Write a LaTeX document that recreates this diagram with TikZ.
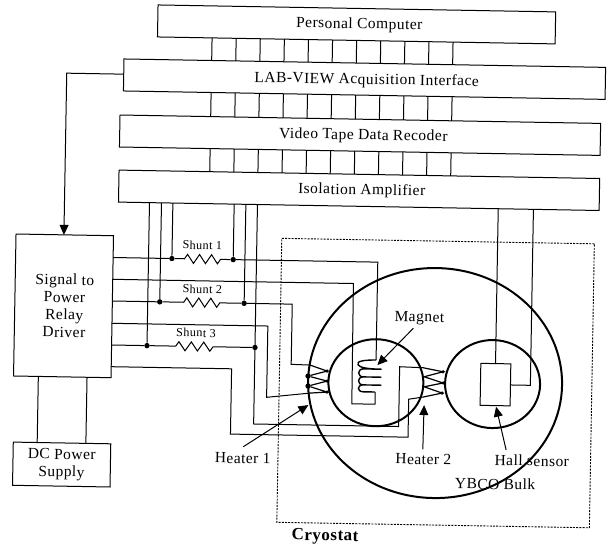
\documentclass[tikz,border=0pt]{standalone}
\usepackage{fontspec}
\setmainfont[LetterSpace=3]{Liberation Serif}
\usetikzlibrary{arrows.meta,calc,shapes.geometric}
\tikzset{
  wire/.style={line width=1pt,line join=miter},
  thick ring/.style={line width=2pt},
  barbox/.style={draw,line width=1pt,rectangle,inner sep=0pt,outer sep=0pt,anchor=north west,minimum width=480.7pt,minimum height=32pt},
  sidebox/.style={draw,line width=1pt,rectangle,inner sep=0pt,outer sep=0pt,anchor=north west,align=center},
  lab/.style={font=\fontsize{15.5}{17.5}\selectfont,inner sep=0pt,align=center},
  small lab/.style={font=\fontsize{12.2}{13}\selectfont,inner sep=0pt},
  dot/.style={circle,fill=black,inner sep=0pt,minimum size=5.4pt},
  tip/.style={-{Triangle[length=10pt,width=9pt]},line width=1pt,shorten >=0pt},
}
\begin{document}
\begin{tikzpicture}[x=1pt,y=-1pt]
\useasboundingbox (0,0) rectangle (608,548);
\begin{scope}[rotate=-1,transform shape]
% bars
\node[barbox,minimum width=397.7pt] (pc) at (158.1,2.2) {};
\node[barbox,minimum width=481.7pt] (labv) at (125,56.8) {};
\node[barbox,minimum width=480.7pt] (vid) at (122,112.9) {};
\node[barbox,minimum width=480.7pt] (iso) at (122,168) {};
\node[lab] (tpc) at (359.7,18.7) {Personal Computer};
\node[lab] (tlab) at (368,74) {LAB-VIEW Acquisition Interface};
\node[lab] (tvid) at (365.7,129.6) {Video Tape Data Recoder};
\node[lab] (tiso) at (365,184.4) {Isolation Amplifier};
\foreach \i in {0,...,10}{
  \coordinate (bx\i) at ({212.7+24.1*\i},0);
  \draw[wire] (bx\i |- pc.south) -- (bx\i |- labv.north);
  \draw[wire] (bx\i |- labv.south) -- (bx\i |- vid.north);
  \draw[wire] (bx\i |- vid.south) -- (bx\i |- iso.north);
}
% left boxes
\node[sidebox,minimum width=97.5pt,minimum height=142pt] (sig) at (20.1,233.7) {};
\node[lab] (tsig) at (69.7,304.6) {Signal to\\Power\\Relay\\Driver};
\node[sidebox,minimum width=97.5pt,minimum height=43.2pt] (dc) at (21,441.8) {};
\node[lab] (tdc) at (69.7,463.4) {DC Power\\Supply};
\coordinate (dcl) at (44.9,0);
\coordinate (dcr) at (93.6,0);
\draw[wire] (dcl |- sig.south) -- (dcl |- dc.north);
\draw[wire] (dcr |- sig.south) -- (dcr |- dc.north);
\coordinate (ac) at (68,72);
\draw[tip] (labv.west |- ac) -- (ac) -- (ac |- sig.north);
% junctions
\node[dot] (a1) at (176.4,255.5) {};
\node[dot] (b1) at (237.7,255.5) {};
\node[dot] (a2) at (165,299) {};
\node[dot] (b2) at (249.4,299) {};
\node[dot] (a3) at (153,343) {};
\node[dot] (b3) at (261,343) {};
% coordinates of the wires
\coordinate (r1) at (117.6,255.5);
\coordinate (r2) at (117.6,277.3);
\coordinate (r3) at (117.6,299);
\coordinate (r4) at (117.6,321.3);
\coordinate (r5) at (117.6,343);
\coordinate (r6) at (117.6,364.7);
% iso verticals
\draw[wire] (a3 |- iso.south) -- (a3);
\draw[wire] (a2 |- iso.south) -- (a2);
\draw[wire] (a1 |- iso.south) -- (a1);
\draw[wire] (b1 |- iso.south) -- (b1);
\draw[wire] (b2 |- iso.south) -- (b2);
% shunts
\coordinate (s1a) at (189,255.5);
\coordinate (s2a) at (189,299);
\coordinate (s3a) at (181.7,343);
\draw[wire] (r1) -- (a1) -- (s1a) -- ++(3,-4.5) -- ++(6,9) -- ++(6,-9) -- ++(6,9) -- ++(6,-9) -- ++(6,9) -- ++(3,-4.5) -- (b1);
\draw[wire] (r3) -- (a2) -- (s2a) -- ++(3,-4.5) -- ++(6,9) -- ++(6,-9) -- ++(6,9) -- ++(6,-9) -- ++(6,9) -- ++(3,-4.5) -- (b2);
\draw[wire] (r5) -- (a3) -- (s3a) -- ++(3.2,-4.5) -- ++(6.2,9) -- ++(6.2,-9) -- ++(6.2,9) -- ++(6.2,-9) -- ++(6.2,9) -- ++(3.2,-4.5) -- (b3);
\node[small lab] (ts1) at (206.6,241.5) {Shunt 1};
\node[small lab] (ts2) at (207.4,285.5) {Shunt 2};
\node[small lab] (ts3) at (201.8,329.3) {Shunt 3};
% cryostat
\node[draw,dash pattern=on 2pt off 1.2pt,line width=0.9pt,rectangle,inner sep=0pt,outer sep=0pt,anchor=north west,minimum width=312.6pt,minimum height=284pt] (cry) at (285.9,233.4) {};
\node[lab,font=\fontsize{17}{18}\selectfont\bfseries] (tcry) at (334.4,531) {Cryostat};
% rings
\node[draw,thick ring,ellipse,inner sep=0pt,minimum width=254pt,minimum height=230pt] (bulk) at (441.7,375.4) {};
\node[draw,thick ring,ellipse,inner sep=0pt,minimum width=95pt,minimum height=87pt] (mag) at (382.5,376.1) {};
\node[draw,thick ring,ellipse,inner sep=0pt,minimum width=95pt,minimum height=88pt] (hall) at (499.2,375.4) {};
% heaters
\coordinate (h1a) at (316.4,359.6);
\coordinate (h1r1) at (333.5,365.3);
\node[dot] (h1l1) at (314.6,370.6) {};
\coordinate (h1r2) at (333.7,375.3);
\node[dot] (h1l2) at (314.8,380.6) {};
\coordinate (h1r3) at (333.9,386.3);
\coordinate (h1b) at (316.9,387.6);
\draw[wire,line width=1.2pt] (h1a) -- (h1r1) -- (h1l1) -- (h1r2) -- (h1l2) -- (h1r3) -- (h1b);
\coordinate (h2a) at (429.4,360.3);
\coordinate (h2r1) at (449.5,364);
\coordinate (h2l1) at (430.6,369.3);
\coordinate (h2r2) at (449.7,375.2);
\coordinate (h2l2) at (430.8,379.3);
\coordinate (h2r3) at (448.9,385.3);
\coordinate (h2b) at (430,389.6);
\draw[wire,line width=1.2pt] (h2a) -- (h2r1) -- (h2l1) -- (h2r2) -- (h2l2) -- (h2r3) -- (h2b);
\foreach \p in {h2r1,h2r2,h2r3,h1r1,h1r2,h1r3}{\fill (\p) circle (1.8pt);}
% hall sensor
\node[sidebox,minimum width=30pt,minimum height=42pt] (hs) at (487.1,354.9) {};
\coordinate (u1) at (501.8,0);
\coordinate (u2) at (537,376);
\draw[wire] (u1 |- iso.south) -- (u1 |- hs.north);
\draw[wire] (u2 |- iso.south) -- (u2) -- (hs.east |- u2);
% coil wires
\coordinate (c1) at (382.3,255.5);
\coordinate (c1b) at (382.3,353.4);
\draw[wire] (b1) -- (c1) -- (c1b);
\coordinate (c2) at (358.3,277.3);
\coordinate (c2b) at (358.8,397.6);
\coordinate (c2c) at (382,397.6);
\coordinate (c2d) at (382,385.4);
\draw[wire] (r2) -- (c2) -- (c2b) -- (c2c) -- (c2d);
\draw[line width=1.4pt] (c1b) .. controls (370,353.5) and (362,355) .. (364.5,358.5) .. controls (366,361) and (372,362.5) .. (388,362.5)
  (388,362.5) -- (370,362.5) .. controls (363.5,362.5) and (363.5,370.5) .. (370,370.5) -- (388,370.5)
  (388,370.5) -- (370,370.5) .. controls (363.5,370.5) and (363.5,378.5) .. (370,378.5) -- (388,378.5)
  (388,378.5) -- (370,378.5) .. controls (363.5,378.5) and (363.5,385.4) .. (370,385.4) -- (c2d);
% wires to heaters
\coordinate (d3a) at (297.5,299);
\coordinate (d3b) at (297.5,359.2);
\draw[wire] (b2) -- (d3a) -- (d3b) -- (h1a);
\coordinate (d4a) at (273.5,321.3);
\coordinate (d4b) at (273.5,392.6);
\draw[wire] (r4) -- (d4a) -- (d4b) -- (h1b);
\coordinate (d5a) at (261,419.5);
\coordinate (d5b) at (406,419.5);
\coordinate (d5c) at (406,359.7);
\draw[wire] (b3 |- iso.south) -- (d5a) -- (d5b) -- (d5c) -- (h2a);
\coordinate (d6a) at (238,364.7);
\coordinate (d6b) at (238,430);
\coordinate (d6c) at (415.6,430);
\coordinate (d6d) at (415.6,392);
\draw[wire] (r6) -- (d6a) -- (d6b) -- (d6c) -- (d6d) -- (h2b);
% labels with pointers
\node[lab] (tmag) at (424.9,311) {Magnet};
\coordinate (pm) at (383.7,358.4);
\draw[tip] (419,321) -- (pm);
\node[lab] (th1) at (250.7,454) {Heater 1};
\coordinate (p1) at (315.4,399.6);
\draw[tip] (251.1,442.4) -- (p1);
\node[lab] (th2) at (431.3,451.9) {Heater 2};
\coordinate (p2) at (431.1,397.6);
\draw[tip] (430.6,441.9) -- (p2);
\node[lab] (ths) at (539.8,451.4) {Hall sensor};
\coordinate (p3) at (503.1,398);
\draw[tip] (513.9,441.1) -- (p3);
\node[lab] (tyb) at (503.5,475.3) {YBCO Bulk};
\end{scope}
\end{tikzpicture}
\end{document}
